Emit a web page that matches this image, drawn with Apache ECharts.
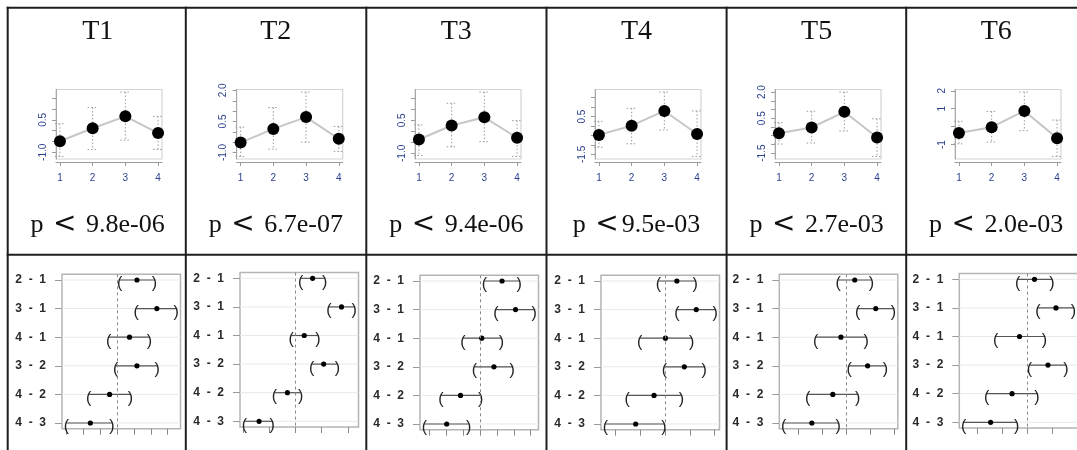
<!DOCTYPE html>
<html>
<head>
<meta charset="utf-8">
<script src="https://cdn.jsdelivr.net/npm/echarts@6/dist/echarts.min.js"></script>
<style>
  html, body { margin: 0; padding: 0; background: #fff; }
  #chart { width: 1077px; height: 450px; }
</style>
</head>
<body>
<div id="chart"></div>
<script>
// ---- data -------------------------------------------------------------
const panels = ['T1', 'T2', 'T3', 'T4', 'T5', 'T6'];
const pTexts = ['p < 9.8e-06', 'p < 6.7e-07', 'p < 9.4e-06', 'p <9.5e-03', 'p < 2.7e-03', 'p < 2.0e-03'];

// group profile (mean with lower / upper bar) per panel
const groups = [1, 2, 3, 4];
const groupMeans = [
  [-0.49, 0.11, 0.66, -0.11],
  [-0.52, 0.14, 0.71, -0.34],
  [-0.37, 0.27, 0.64, -0.29],
  [-0.47, 0.02, 0.80, -0.42],
  [-0.36, -0.03, 0.87, -0.60],
  [-0.35, -0.03, 0.88, -0.64]
];
const groupLow = [
  [-1.19, -0.87, -0.44, -0.87],
  [-1.19, -0.84, -0.50, -0.95],
  [-1.10, -0.70, -0.47, -1.14],
  [-1.12, -0.94, -0.21, -1.61],
  [-0.98, -0.92, -0.23, -1.69],
  [-0.96, -0.86, -0.22, -1.66]
];
const groupHigh = [
  [0.32, 1.07, 1.78, 0.66],
  [0.23, 1.17, 1.92, 0.26],
  [0.30, 1.28, 1.79, 0.49],
  [0.25, 0.94, 1.80, 0.80],
  [0.25, 0.90, 2.00, 0.47],
  [0.30, 0.85, 1.93, 0.37]
];
const meanTicks = [
  [-1.0, -0.5, 0, 0.5, 1.0, 1.5],
  [-1.0, -0.5, 0, 0.5, 1.0, 1.5, 2.0],
  [-1.0, -0.5, 0, 0.5, 1.0, 1.5],
  [-1.5, -1.0, -0.5, 0, 0.5, 1.0, 1.5],
  [-1.5, -1.0, -0.5, 0, 0.5, 1.0, 1.5, 2.0],
  [-1, 0, 1, 2]
];
const meanTickLabels = [
  ['-1.0', '0.5'],
  ['-1.0', '0.5', '2.0'],
  ['-1.0', '0.5'],
  ['-1.5', '0.5'],
  ['-1.5', '0.5', '2.0'],
  ['-1', '1', '2']
];

// pairwise differences with confidence limits per panel
const pairs = ['2 - 1', '3 - 1', '4 - 1', '3 - 2', '4 - 2', '4 - 3'];
const diffLwr = [
  [0.08, 0.57, -0.25, -0.04, -0.84, -1.50],
  [0.10, 0.64, -0.08, 0.31, -0.40, -0.97],
  [0.13, 0.47, -0.51, -0.17, -1.16, -1.65],
  [-0.13, 0.24, -0.51, -0.01, -0.76, -1.20],
  [-0.17, 0.24, -0.64, 0.06, -0.81, -1.31],
  [-0.19, 0.22, -0.63, 0.05, -0.81, -1.27]
];
const diffEst = [
  [0.59, 1.18, 0.37, 0.59, -0.22, -0.79],
  [0.33, 0.88, 0.17, 0.54, -0.15, -0.69],
  [0.65, 1.05, 0.05, 0.41, -0.58, -0.99],
  [0.24, 0.63, 0.01, 0.39, -0.22, -0.59],
  [0.18, 0.62, -0.11, 0.45, -0.28, -0.72],
  [0.15, 0.58, -0.15, 0.42, -0.30, -0.73]
];
const diffUpr = [
  [1.11, 1.75, 0.96, 1.19, 0.40, -0.15],
  [0.56, 1.12, 0.43, 0.80, 0.10, -0.44],
  [1.16, 1.60, 0.63, 0.95, 0.02, -0.34],
  [0.61, 1.01, 0.54, 0.79, 0.33, -0.02],
  [0.53, 0.99, 0.42, 0.82, 0.24, -0.17],
  [0.50, 0.93, 0.35, 0.78, 0.20, -0.21]
];
const diffTicks = [
  [-1.5, -1.0, -0.5, 0, 0.5, 1.0, 1.5],
  [-1.0, -0.5, 0, 0.5, 1.0],
  [-1.5, -1.0, -0.5, 0, 0.5, 1.0, 1.5],
  [-1.0, -0.5, 0, 0.5, 1.0],
  [-1.0, -0.5, 0, 0.5, 1.0],
  [-1.0, -0.5, 0, 0.5, 1.0]
];

// ---- layout -----------------------------------------------------------
const colEdges = [7.7, 185.8, 366.3, 546.5, 726.6, 906.2];
const colWidth = 180;
const rowSplit = 254.7;
const meanBox = { lefts: [56, 236.7, 415, 595, 775, 955], top: 89.5, width: 106, height: 69.5 };
const diffBox = { lefts: [62, 240, 420, 601, 779.3, 959.3], tops: [274.3, 272.6, 275.3, 275.3, 274.3, 273.6], width: 118.5, height: 154.4 };

const AXIS_BLUE = '#2b3f8c';
const SANS = '"Liberation Sans", Arial, sans-serif';
const SERIF = '"Liberation Serif", "Times New Roman", serif';

// R-style 4% range extension
function extend(lo, hi) {
  const pad = (hi - lo) * 0.04;
  return [lo - pad, hi + pad];
}

const grid = [], xAxis = [], yAxis = [], series = [];

panels.forEach((name, i) => {
  // ---- group profile panel
  const g = grid.length;
  grid.push({
    left: meanBox.lefts[i], top: meanBox.top, width: meanBox.width, height: meanBox.height,
    show: true, borderColor: '#d4d4d4', borderWidth: 1.2, backgroundColor: 'transparent',
    containLabel: false, outerBoundsMode: 'none'
  });
  const yr = extend(Math.min(...groupLow[i]), Math.max(...groupHigh[i]));
  const xr = extend(groups[0], groups[groups.length - 1]);
  const labelVals = meanTickLabels[i].map(Number);
  xAxis.push({
    gridIndex: g, type: 'value', min: xr[0], max: xr[1], offset: 3,
    axisLine: { show: true, onZero: false, lineStyle: { color: '#9a9a9a', width: 1 } },
    axisTick: { show: true, length: 4, customValues: groups, lineStyle: { color: '#9a9a9a' } },
    axisLabel: { show: true, customValues: groups, color: AXIS_BLUE, fontSize: 10, fontFamily: SANS, margin: 11 },
    splitLine: { show: false }
  });
  yAxis.push({
    gridIndex: g, type: 'value', min: yr[0], max: yr[1],
    axisLine: { show: true, onZero: false, lineStyle: { color: '#a8a8a8', width: 1 } },
    axisTick: { show: true, length: 4, customValues: meanTicks[i], lineStyle: { color: '#9a9a9a' } },
    axisLabel: {
      show: true, customValues: labelVals, rotate: 90, color: AXIS_BLUE, fontSize: 10,
      fontFamily: SANS, margin: 8,
      formatter: v => {
        const k = labelVals.findIndex(x => Math.abs(x - v) < 1e-9);
        return k >= 0 ? meanTickLabels[i][k] : '';
      }
    },
    splitLine: { show: false }
  });
  series.push({
    type: 'custom', xAxisIndex: g, yAxisIndex: g, silent: true, z: 2,
    encode: { x: 0, y: [1, 2] },
    data: groups.map((gv, k) => [gv, groupLow[i][k], groupHigh[i][k]]),
    renderItem: (params, api) => {
      const top = api.coord([api.value(0), api.value(2)]);
      const bot = api.coord([api.value(0), api.value(1)]);
      const st = { stroke: '#9c9c9c', lineWidth: 1, lineDash: [1.5, 2] };
      return {
        type: 'group', children: [
          { type: 'line', shape: { x1: top[0], y1: top[1], x2: bot[0], y2: bot[1] }, style: st },
          { type: 'line', shape: { x1: top[0] - 5, y1: top[1], x2: top[0] + 5, y2: top[1] }, style: st },
          { type: 'line', shape: { x1: bot[0] - 5, y1: bot[1], x2: bot[0] + 5, y2: bot[1] }, style: st }
        ]
      };
    }
  });
  series.push({
    type: 'line', xAxisIndex: g, yAxisIndex: g, silent: true, z: 3,
    data: groups.map((gv, k) => [gv, groupMeans[i][k]]),
    symbol: 'circle', symbolSize: 12,
    itemStyle: { color: '#000' },
    lineStyle: { color: '#c6c6c6', width: 2 }
  });

  // ---- pairwise difference panel
  const h = grid.length;
  grid.push({
    left: diffBox.lefts[i], top: diffBox.tops[i], width: diffBox.width, height: diffBox.height,
    show: true, borderColor: '#b4b4b4', borderWidth: 1.5, backgroundColor: 'transparent',
    containLabel: false, outerBoundsMode: 'none'
  });
  const dr = extend(Math.min(...diffLwr[i]), Math.max(...diffUpr[i]));
  const rows = pairs.map((p, k) => k + 1);
  const rr = extend(1, pairs.length);
  xAxis.push({
    gridIndex: h, type: 'value', min: dr[0], max: dr[1],
    axisLine: { show: false, onZero: false },
    axisTick: { show: true, length: 6, customValues: diffTicks[i], lineStyle: { color: '#8a8a8a' } },
    axisLabel: { show: false },
    splitLine: { show: false }
  });
  yAxis.push({
    gridIndex: h, type: 'value', min: rr[0], max: rr[1], inverse: true,
    axisLine: { show: false, onZero: false },
    axisTick: { show: true, length: 7, customValues: rows, lineStyle: { color: '#9a9a9a' } },
    axisLabel: {
      show: true, customValues: rows, color: '#2a2a2a', fontSize: 12, fontWeight: 'bold',
      fontFamily: SANS, margin: 16,
      formatter: v => (pairs[Math.round(v) - 1] || '').replace(/ /g, '  ')
    },
    splitLine: { show: false }
  });
  series.push({
    type: 'custom', xAxisIndex: h, yAxisIndex: h, silent: true, z: 2,
    encode: { x: [0, 1, 2], y: 3 },
    data: pairs.map((p, k) => [diffLwr[i][k], diffEst[i][k], diffUpr[i][k], k + 1]),
    renderItem: (params, api) => {
      const row = api.value(3);
      const a = api.coord([api.value(0), row]);
      const m = api.coord([api.value(1), row]);
      const b = api.coord([api.value(2), row]);
      const cs = params.coordSys;
      const bracket = { font: '16px ' + SANS, fill: '#222', textAlign: 'center', textVerticalAlign: 'middle' };
      return {
        type: 'group', children: [
          { type: 'line', shape: { x1: cs.x, y1: a[1], x2: cs.x + cs.width, y2: a[1] }, style: { stroke: '#e9e9e9', lineWidth: 1 } },
          { type: 'line', shape: { x1: a[0], y1: a[1], x2: b[0], y2: b[1] }, style: { stroke: '#555', lineWidth: 1.2 } },
          { type: 'text', x: a[0], y: a[1] + 4, style: Object.assign({ text: '(' }, bracket) },
          { type: 'text', x: b[0], y: b[1] + 4, style: Object.assign({ text: ')' }, bracket) },
          { type: 'circle', shape: { cx: m[0], cy: m[1], r: 2.6 }, style: { fill: '#000' } }
        ]
      };
    },
    markLine: {
      silent: true, symbol: ['none', 'none'], label: { show: false },
      lineStyle: { color: '#8a8a8a', type: [3, 3], width: 1 },
      emphasis: { disabled: true },
      data: [{ xAxis: 0 }]
    }
  });
});

// ---- table frame and text
const graphic = [];
const LINE = { stroke: '#1e1e1e', lineWidth: 2 };
graphic.push({ type: 'line', shape: { x1: colEdges[0] - 1, y1: 7.7, x2: 1077, y2: 7.7 }, style: LINE, z: 10 });
graphic.push({ type: 'line', shape: { x1: colEdges[0] - 1, y1: rowSplit, x2: 1077, y2: rowSplit }, style: LINE, z: 10 });
colEdges.forEach(x => {
  graphic.push({ type: 'line', shape: { x1: x, y1: 6.7, x2: x, y2: 450 }, style: LINE, z: 10 });
});
panels.forEach((name, i) => {
  const cx = colEdges[i] + colWidth / 2;
  graphic.push({
    type: 'text', x: cx, y: 31.5, z: 10,
    style: { text: name, font: '28px ' + SERIF, fill: '#111', textAlign: 'center', textVerticalAlign: 'middle' }
  });
  graphic.push({
    type: 'text', x: cx, y: 225, z: 10,
    style: {
      text: pTexts[i].replace('<', '{lt|<}'),
      font: '26px ' + SERIF, fill: '#111', textAlign: 'center', textVerticalAlign: 'middle',
      rich: { lt: { fontSize: 28, fontFamily: '"DejaVu Sans", sans-serif', fill: '#111', padding: [0, 3] } }
    }
  });
});

const chart = echarts.init(document.getElementById('chart'), null, { renderer: 'canvas' });
chart.setOption({
  animation: false,
  backgroundColor: '#fff',
  textStyle: { fontFamily: SANS },
  grid, xAxis, yAxis, series, graphic
});
</script>
</body>
</html>
